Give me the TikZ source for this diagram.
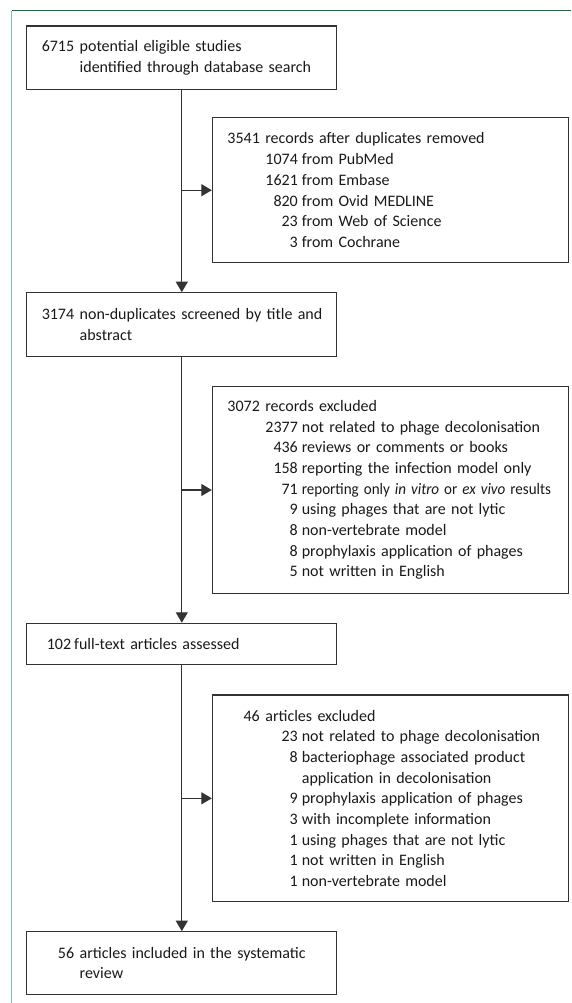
\documentclass[tikz,border=0pt]{standalone}
\usepackage{graphicx}
\usepackage{fontspec}
\setmainfont{Carlito}
\usetikzlibrary{arrows.meta}

\definecolor{framegreen}{RGB}{0,122,61}
\definecolor{framemint}{RGB}{122,196,160}
\definecolor{boxline}{RGB}{51,51,51}

% one line: count, then its text
\newcommand{\headline}[2]{\mbox{\makebox[33pt][r]{#1}\hspace{5.5pt}#2}}
\newcommand{\restline}[1]{\mbox{\hspace*{38.5pt}#1}}
% indented sub-counts in the exclusion boxes
\newcommand{\subline}[2]{\mbox{\hspace*{38pt}\makebox[33pt][r]{#1}\hspace{4pt}#2}}
\newcommand{\contline}[1]{\mbox{\hspace*{75pt}#1}}

\begin{document}
\begin{tikzpicture}[x=1pt,y=-1pt,>={Triangle[length=10.5pt,width=12pt]},
  box/.style={draw=boxline, line width=1.1pt, inner xsep=14.5pt, inner ysep=2pt, align=left,
    font=\fontsize{16}{20.7}\selectfont, text=black!90},
  leftbox/.style={box, text width=281.2pt, minimum height=#1},
  rightbox/.style={box, text width=326.7pt, minimum height=#1},
  flow/.style={draw=boxline, line width=1.3pt, ->}]
            \useasboundingbox (0,0) rectangle (571,1003);
            \draw[framegreen, line width=1pt] (11.7,10.6) -- (571,10.6);
            \draw[framemint, line width=1.5pt] (11.7,10.6) -- (11.7,1003);

            \node[leftbox=63.3pt] (search) at (181.8,57.7)
                {\headline{6715}{potential eligible studies}\\ \restline{identified through database search}};
            \node[rightbox=145pt] (dedup) at (390.2,190.2)
                {\headline{3541}{records after duplicates removed}\\
                 \subline{1074}{from PubMed}\\
                 \subline{1621}{from Embase}\\
                 \subline{820}{from Ovid MEDLINE}\\
                 \subline{23}{from Web of Science}\\
                 \subline{3}{from Cochrane}};
            \node[leftbox=63.3pt] (screen) at (181.8,324.4)
                {\headline{3174}{non-duplicates screened by title and}\\ \restline{abstract}};
            \node[rightbox=206.6pt] (excl) at (390.2,490)
                {\headline{3072}{records excluded}\\
                 \subline{2377}{not related to phage decolonisation}\\
                 \subline{436}{reviews or comments or books}\\
                 \subline{158}{reporting the infection model only}\\
                 \subline{71}{\scalebox{0.94}[1]{reporting only \textit{in vitro} or \textit{ex vivo} results}}\\
                 \subline{9}{using phages that are not lytic}\\
                 \subline{8}{non-vertebrate model}\\
                 \subline{8}{prophylaxis application of phages}\\
                 \subline{5}{not written in English}};
            \node[leftbox=41pt] (fulltext) at (181.8,643.8)
                {\mbox{\makebox[30pt][r]{102}\hspace{3pt}full-text articles assessed}};
            \node[rightbox=206.7pt] (ftexcl) at (390.2,798.3)
                {\headline{46}{articles excluded}\\
                 \subline{23}{not related to phage decolonisation}\\
                 \subline{8}{bacteriophage associated product}\\
                 \contline{application in decolonisation}\\
                 \subline{9}{prophylaxis application of phages}\\
                 \subline{3}{with incomplete information}\\
                 \subline{1}{using phages that are not lytic}\\
                 \subline{1}{not written in English}\\
                 \subline{1}{non-vertebrate model}};
            \node[leftbox=62.6pt] (incl) at (181.8,963)
                {\headline{56}{articles included in the systematic}\\ \restline{review}};

            \draw[flow] (search) -- (screen);
            \draw[flow] (screen) -- (fulltext);
            \draw[flow] (fulltext) -- (incl);
            \draw[flow] (search.south |- dedup.west) -- (dedup.west);
            \draw[flow] (screen.south |- excl.west) -- (excl.west);
            \draw[flow] (fulltext.south |- ftexcl.west) -- (ftexcl.west);
\end{tikzpicture}
\end{document}
